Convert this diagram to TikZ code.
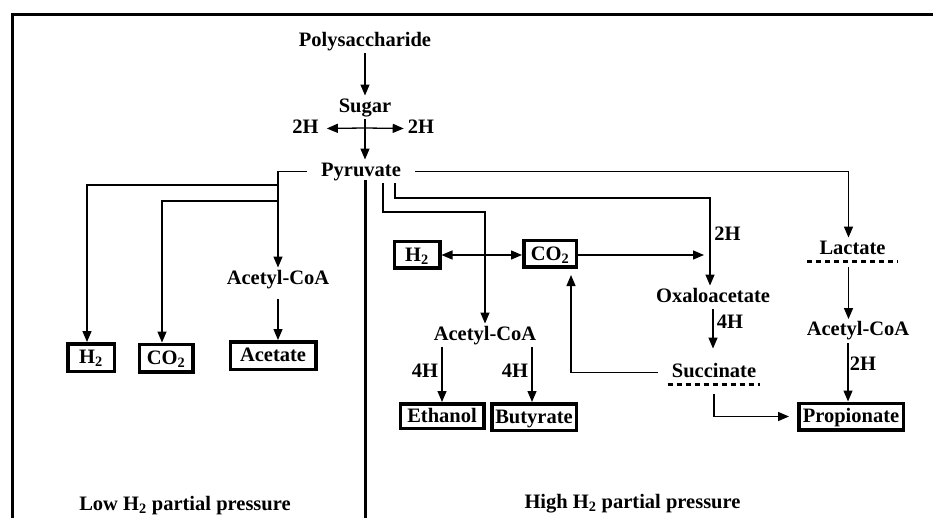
\documentclass[tikz,border=0pt]{standalone}
\usepackage{fontspec}
\setmainfont{Liberation Serif}
\usetikzlibrary{arrows.meta}

\begin{document}
\begin{tikzpicture}[
  x=1pt, y=-1pt,
  font=\fontsize{20.5}{23}\selectfont\bfseries,
  txt/.style={inner xsep=4pt, inner ysep=3pt, text height=13.5pt, text depth=4pt},
  prod/.style={draw, line width=3.5pt, inner xsep=3pt, inner ysep=2pt,
               text height=13.5pt, text depth=1pt, minimum height=26.5pt},
  pool/.style={txt, minimum width=90pt},
  arrow/.style={-{Triangle[length=11pt,width=9pt]}, line width=1.3pt},
  twoway/.style={{Triangle[length=11pt,width=9pt]}-{Triangle[length=11pt,width=9pt]}, line width=1.3pt},
  frame/.style={line width=3pt},
  dotline/.style={line width=3pt, dash pattern=on 5pt off 4pt},
]
\useasboundingbox (0,0) rectangle (933,518);

\draw[frame] (12,518) -- (12,15) -- (933,15);
\draw[frame] (365,180) -- (365,518);

% common trunk
\node[txt] (poly)  at (365,41.5)  {Polysaccharide};
\node[txt] (sugar) at (365,107.5) {Sugar};
\node[txt] (hl)    at (305.5,128.5) {2H};
\node[txt] (hr)    at (421,128.5) {2H};
\node[txt] (pyr)   at (361,171.5) {Pyruvate};
\coordinate (cross) at (365,128);

\draw[arrow] (poly) -- (sugar);
\draw[arrow] (sugar.south) -- (sugar.south |- pyr.north);
\draw[arrow, shorten >=4pt] (cross) -- (hl.east);
\draw[arrow] (cross) -- (hr.west);

% low H2 partial pressure
\node[txt]  (acA)  at (278,279.5) {Acetyl-CoA};
\node[prod, minimum width=46.5pt, minimum height=27.5pt] (h2a)  at (91,357.5)  {H\textsubscript{2}};
\node[prod, minimum width=53.5pt, minimum height=27.5pt] (co2a) at (166,358)   {CO\textsubscript{2}};
\node[prod, minimum width=85.5pt, minimum height=27.5pt] (acet) at (273,355.5) {Acetate};
\coordinate (jA) at (278,185);
\coordinate (jB) at (278,201);

\draw[arrow, shorten <=10pt] (pyr.west) -| (acA.north);
\draw[arrow] (jA) -| ([xshift=-4pt]h2a.north);
\draw[arrow] (jB) -| ([xshift=-4pt]co2a.north);
\draw[arrow, shorten <=8pt] (acA.south) -- (acA.south |- acet.north);

\node[txt] (low) at (185,505.5) {Low H\textsubscript{2} partial pressure};

% high H2 partial pressure
\node[prod, minimum width=45.5pt]  (h2b)  at (417,255)   {H\textsubscript{2}};
\node[prod, minimum width=52.5pt]  (co2b) at (550,254)   {CO\textsubscript{2}};
\node[txt]  (acB)  at (485,335.5) {Acetyl-CoA};
\node[prod, minimum width=83.5pt, minimum height=24.5pt]  (eth)  at (442,416)   {Ethanol};
\node[prod, minimum width=84.5pt]  (but)  at (534,417)   {Butyrate};
\node[txt]  (ox)   at (713,297.5) {Oxaloacetate};
\node[pool] (succ) at (714,372.5) {Succinate};
\node[pool] (lac)  at (852.5,249.5) {Lactate};
\node[txt]  (acC)  at (858,331)   {Acetyl-CoA};
\node[prod, minimum width=104.5pt] (prop) at (851,416.5) {Propionate};

\node[txt] (hox)  at (727.5,235.5) {2H};
\node[txt] (hsuc) at (730,323.5)   {4H};
\node[txt] (heth) at (425,373)     {4H};
\node[txt] (hbut) at (515,373)     {4H};
\node[txt] (hpro) at (863,365.5)   {2H};

\draw[dotline] (lac.south west) -- (lac.south east);
\draw[dotline] (succ.south west) -- (succ.south east);

\coordinate (pB) at (395,198);
\coordinate (pC) at (383,212);
\coordinate (oxin) at (704,255);

\draw[arrow, shorten <=10pt] (pyr.east) -| ([xshift=-4pt]lac.north);
\draw[arrow] (pB |- pyr.south) -- (pB) -| ([xshift=-3pt]ox.north);
\draw[arrow] (pC |- pyr.south) -- (pC) -| (acB.north);
\draw[twoway] (h2b.east) -- (h2b.east -| co2b.west);
\draw[arrow] (co2b.east |- oxin) -- (oxin);
\draw[arrow, shorten >=12pt] (ox.south) -- (ox.south |- succ.north);
\draw[arrow, shorten >=6pt] ([xshift=-10pt]succ.west) -| ([xshift=21pt]co2b.south);
\draw[arrow, shorten <=10pt, shorten >=8pt] (succ.south) |- (prop.west);
\draw[arrow, shorten <=6pt] ([xshift=-4pt]lac.south) -- ([xshift=-4pt]lac.south |- acC.north);
\draw[arrow] ([xshift=-3pt]prop.north |- acC.south) -- ([xshift=-3pt]prop.north);
\draw[arrow] (acB.south -| eth.north) -- (eth.north);
\draw[arrow] ([xshift=-2pt]but.north |- acB.south) -- ([xshift=-2pt]but.north);

\node[txt] (high) at (632.5,503.5) {High H\textsubscript{2} partial pressure};

\end{tikzpicture}
\end{document}
